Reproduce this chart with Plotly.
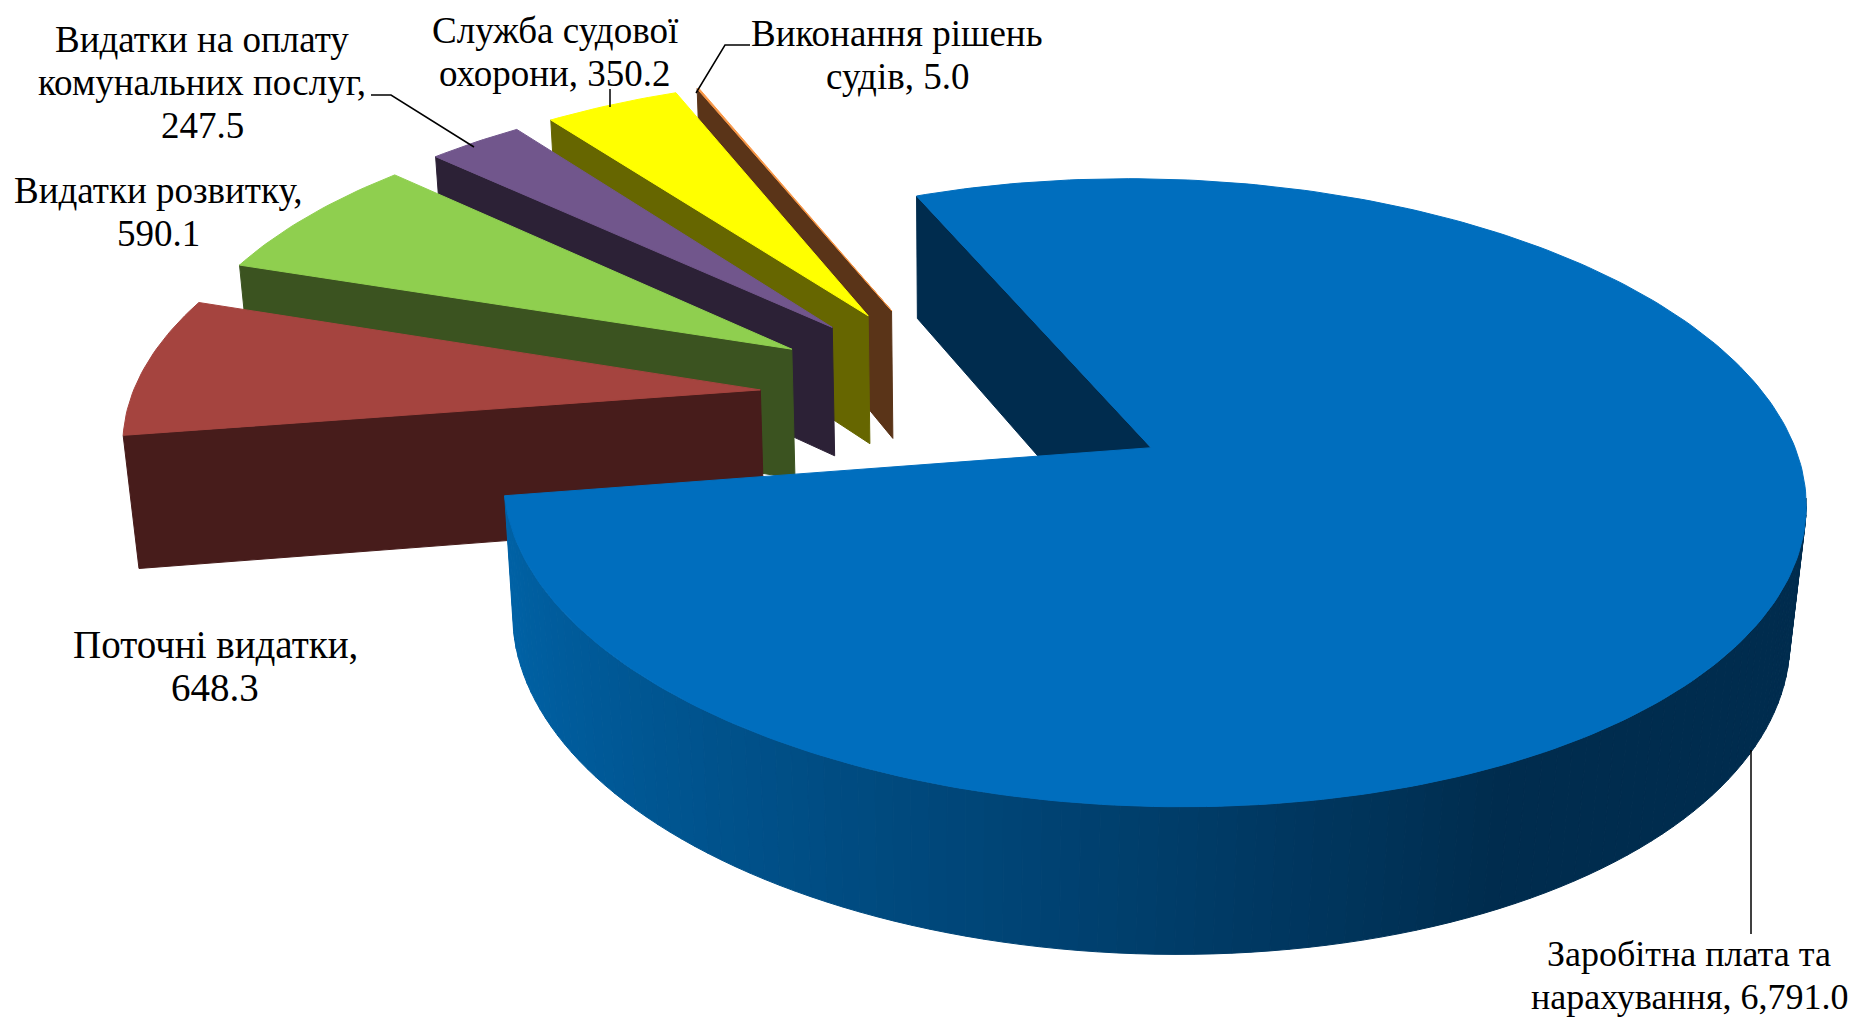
import numpy as np
import plotly.graph_objects as go

# values of the chart, in the drawing order of the pie (clockwise from the first slice)
CATEGORIES = ["Заробітна плата та нарахування", "Поточні видатки", "Видатки розвитку",
              "Видатки на оплату комунальних послуг", "Служба судової охорони", "Виконання рішень судів"]
VALUES = [6791.0, 648.3, 590.1, 247.5, 350.2, 5.0]
LABELS = ["Заробітна плата та\nнарахування, {:,.1f}", "Поточні видатки,\n{:,.1f}", "Видатки розвитку,\n{:,.1f}",
          "Видатки на оплату\nкомунальних послуг,\n{:,.1f}", "Служба судової\nохорони, {:,.1f}",
          "Виконання рішень\nсудів, {:,.1f}"]
TOP_COLORS = ["#006EBE", "#A5443F", "#8FCF4F", "#71568C", "#FFFF00", "#F79646"]
SIDE_COLORS = ["#002C4E", "#471C1B", "#3B5320", "#2C2136", "#666600", "#5A3418"]
# centre of the first line of each label, its font size, and leader line of each label (pixels)
LABEL_POS = [(1689, 954), (215, 644), (158, 190), (202, 39), (555, 30), (897, 33)]
LABEL_SIZES = [36, 39, 37, 37, 37, 37]
LINE_STEP = 43
LEADERS = [[(1751, 750), (1751, 934)], None, None,
           [(474, 147), (391, 95), (371, 95)], [(610, 107), (610, 89)], [(696, 93), (725, 45), (750, 45)]]

# camera of the fake 3D pie
CX, CY = 966.4, 398
A, B = 629, 293.5
P, Q = 0.14, 0.0188
H = 134
EXPLODE, EXPLODE_Y = 0.33, 1.015
FIRST_ANGLE = 112
# the page body has a margin of 8 px, the plot area starts there
PAGE_MARGIN = 8


def project(x, y, z):
    s = 1 / (1 + P * y + Q * z)
    return CX + A * x * s, CY - (B * y - H * z) * s


def polygon(points, color, line_width=1):
    xs = [p[0] for p in points]
    ys = [p[1] for p in points]
    return go.Scatter(x=xs + xs[:1], y=ys + ys[:1], mode="lines", fill="toself", fillcolor=color,
                      line=dict(color=color, width=line_width), hoverinfo="skip", showlegend=False)


def rim_color(theta):
    # shading of the outer wall, from lit on the left to dark at the front right
    t = min(max((theta + 172) / 107, 0), 1) ** 1.3
    return "rgb(0,%d,%d)" % (round(98 + (44 - 98) * t), round(166 + (78 - 166) * t))


sweeps = [v / sum(VALUES) * 360 for v in VALUES]
starts = FIRST_ANGLE - np.concatenate([[0], np.cumsum(sweeps)[:-1]])

fig = go.Figure()

# back to front: last slice first, the large slice on top
for i in range(len(VALUES) - 1, -1, -1):
    start, sweep = starts[i], sweeps[i]
    mid = np.radians(start - sweep / 2)
    ox, oy = EXPLODE * np.cos(mid), EXPLODE * EXPLODE_Y * np.sin(mid)
    thetas = np.linspace(start, start - sweep, max(int(sweep), 2) + 1)

    def on_rim(theta, z):
        r = np.radians(theta)
        return project(ox + np.cos(r), oy + np.sin(r), z)

    # cut face at the start edge
    fig.add_trace(polygon([project(ox, oy, 0), on_rim(start, 0), on_rim(start, 1), project(ox, oy, 1)],
                          SIDE_COLORS[i]))
    # outer wall, only where it faces the viewer
    visible = [t for t in np.arange(start - sweep, -7.9, 1.5)] if i == 0 else []
    for t0, t1 in zip(visible[:-1], visible[1:]):
        fig.add_trace(polygon([on_rim(t0, 0), on_rim(t1, 0), on_rim(t1, 1), on_rim(t0, 1)], rim_color(t0)))
    fig.add_trace(polygon([project(ox, oy, 0)] + [on_rim(t, 0) for t in thetas], TOP_COLORS[i]))

for leader in LEADERS:
    if leader:
        fig.add_trace(go.Scatter(x=[p[0] for p in leader], y=[p[1] for p in leader], mode="lines",
                                 line=dict(color="black", width=1.5), hoverinfo="skip", showlegend=False))

for label, value, size, (lx, ly) in zip(LABELS, VALUES, LABEL_SIZES, LABEL_POS):
    for n, line in enumerate(label.format(value).split("\n")):
        fig.add_annotation(x=lx, y=ly + n * LINE_STEP, text=line, showarrow=False, xanchor="center", yanchor="middle",
                           font=dict(family="Liberation Serif", size=size, color="black"))

fig.update_xaxes(range=[PAGE_MARGIN, 1860], visible=False, fixedrange=True)
fig.update_yaxes(range=[1021, PAGE_MARGIN], visible=False, fixedrange=True)
fig.update_layout(width=1860 - PAGE_MARGIN, height=1021 - PAGE_MARGIN, margin=dict(l=0, r=0, t=0, b=0),
                  paper_bgcolor="white", plot_bgcolor="white", showlegend=False)

fig.write_html("out.html")
